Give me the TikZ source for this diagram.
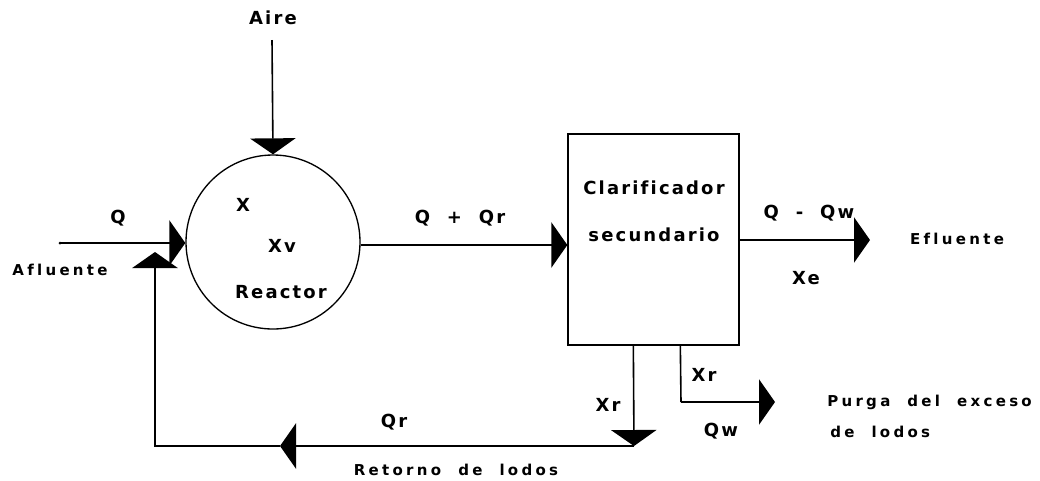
\documentclass[tikz,border=0pt]{standalone}
\usepackage{fontspec}
\newfontfamily\lbfont{DejaVu Sans Bold}[LetterSpace=12, WordSpace=2, Ligatures=NoCommon]
\newfontfamily\smfont{DejaVu Sans Bold}[LetterSpace=22, WordSpace=2, Ligatures=NoCommon]
\usetikzlibrary{arrows.meta,calc}
\tikzset{
  lab/.style={font=\lbfont\fontsize{13.5}{16}\selectfont, inner sep=0pt},
  sm/.style={font=\smfont\fontsize{11.25}{13}\selectfont, inner sep=0pt},
  flow/.style={line width=1.2pt, -{Triangle[length=12pt,width=34pt]}},
  plain/.style={line width=1.2pt},
  unit/.style={draw, line width=1pt, inner sep=0pt}
}
\begin{document}
\begin{tikzpicture}[x=0.75pt,y=-0.75pt]
\useasboundingbox (0,0) rectangle (1040,480);
% units
\node[unit, circle, minimum size=130.5pt] (reactor) at (273,242) {};
\node[unit, rectangle, minimum width=128.25pt, minimum height=158.25pt] (clar) at (653.5,239.5) {};
% labels
\node[lab] (aire) at (273,18) {Aire};
\node[lab] (q) at (118,218) {Q};
\node[sm] (afl) at (60,270) {Afluente};
\node[lab] (x) at (243,205) {X};
\node[lab] (xv) at (282,246) {Xv};
\node[lab] (reac) at (281,292) {Reactor};
\node[lab] (qqr) at (460,218) {Q + Qr};
\node[lab] (cl1) at (654,188) {Clarificador};
\node[lab] (cl2) at (654,235) {secundario};
\node[lab] (qqw) at (809,213) {Q - Qw};
\node[lab] (xe) at (806,278) {Xe};
\node[sm] (efl) at (957,239) {Efluente};
\node[lab] (xr1) at (608,405) {Xr};
\node[lab] (xr2) at (704,375) {Xr};
\node[lab] (qw) at (721,431) {Qw};
\node[sm, anchor=west] (pur1) at (827,402) {Purga del exceso};
\node[sm, anchor=west] (pur2) at (830,432) {de lodos};
\node[lab] (qr) at (394,422) {Qr};
\node[sm] (ret) at (456,470) {Retorno de lodos};
% coordinates
\coordinate (airetop) at (272,40);
\coordinate (afstart) at (60,243);
\coordinate (efftip) at (870,240);
\coordinate (xrtop) at ($(clar.south west)+(66,0)$);
\coordinate (xrbot) at (634,446);
\coordinate (retmid) at (280,446);
\coordinate (rettip) at (155,252);
\coordinate (pgtop) at ($(clar.south west)+(113,0)$);
\coordinate (pgcorner) at (681,402);
\coordinate (pgtip) at (775,402);
% connectors
\draw[flow] (airetop) -- (reactor.north);
\fill (afstart) circle (1.5);
\draw[flow] (afstart) -- (afstart -| reactor.west);
\draw[flow] (reactor.east |- 0,245) -- (clar.west |- 0,245);
\draw[flow] (clar.east |- efftip) -- (efftip);
\draw[flow] (xrtop) -- (xrbot);
\draw[flow] (xrbot) -- (retmid);
\draw[flow] (retmid) -| (rettip);
\draw[plain] (pgtop) -- (pgcorner);
\draw[flow] (pgcorner) -- (pgtip);
\end{tikzpicture}
\end{document}
